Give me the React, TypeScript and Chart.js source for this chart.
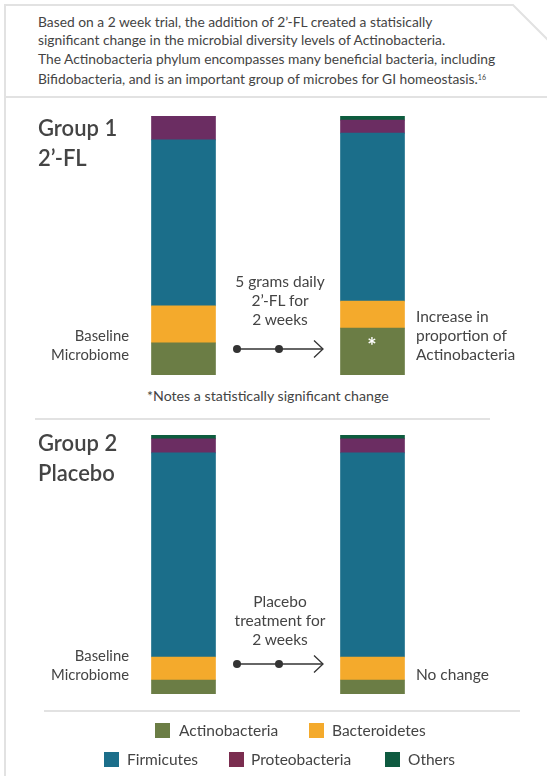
import React, { useEffect, useRef } from "react";
import { Chart, registerables } from "chart.js";

Chart.register(...registerables);

// ---- data (percent of microbiome) ----
const stages = ["Baseline", "After 2 weeks"];
const seriesNames = ["Actinobacteria", "Bacteroidetes", "Firmicutes", "Proteobacteria", "Others"];
const seriesColors = ["#6b7d45", "#f4aa2c", "#1b6e8a", "#6b2d62", "#0d5c3e"];
const legendColors = ["#6b7d45", "#f4aa2c", "#1b6e8a", "#7a2d4f", "#0e5a40"];

const g1Actinobacteria = [12.4, 18.1];
const g1Bacteroidetes = [14.3, 10.4];
const g1Firmicutes = [64.1, 64.9];
const g1Proteobacteria = [9.2, 5.0];
const g1Others = [0, 1.6];

const g2Actinobacteria = [5.4, 5.4];
const g2Bacteroidetes = [8.9, 8.9];
const g2Firmicutes = [78.8, 78.8];
const g2Proteobacteria = [5.4, 5.4];
const g2Others = [1.5, 1.5];

const group1 = [g1Actinobacteria, g1Bacteroidetes, g1Firmicutes, g1Proteobacteria, g1Others];
const group2 = [g2Actinobacteria, g2Bacteroidetes, g2Firmicutes, g2Proteobacteria, g2Others];

const FONT = "Lato, 'Noto Sans', sans-serif";
const TEXT = "#444";

function StackedBars({ top, values }: { top: number; values: number[][] }) {
  const ref = useRef<HTMLCanvasElement | null>(null);
  useEffect(() => {
    if (!ref.current) return;
    const chart = new Chart(ref.current, {
      type: "bar",
      data: {
        labels: stages,
        datasets: values.map((v, i) => ({
          label: seriesNames[i],
          data: v,
          backgroundColor: seriesColors[i],
          borderWidth: 0,
          barThickness: 64,
        })),
      },
      options: {
        animation: false,
        responsive: true,
        maintainAspectRatio: false,
        layout: { padding: 0 },
        plugins: { legend: { display: false }, tooltip: { enabled: false } },
        scales: {
          x: { stacked: true, display: false, offset: true },
          y: { stacked: true, display: false, min: 0, max: 100 },
        },
      },
    });
    return () => chart.destroy();
  }, [values]);
  return (
    <div style={{ position: "absolute", left: 89, top, width: 378, height: 259 }}>
      <canvas ref={ref} />
    </div>
  );
}

function T({
  x, y, w, align = "left", size = 15.5, lh = 19, color = TEXT, weight = 400, children,
}: any) {
  const style: any = {
    position: "absolute",
    top: y,
    fontFamily: FONT,
    fontSize: size,
    lineHeight: lh + "px",
    color,
    fontWeight: weight,
    whiteSpace: "pre",
    textAlign: align,
  };
  if (align === "right") style.right = 547 - x;
  else if (align === "center") { style.left = x - w / 2; style.width = w; }
  else style.left = x;
  return <div style={style}>{children}</div>;
}

function Arrow({ y }: { y: number }) {
  return (
    <g stroke="#333" fill="none" strokeWidth={1.3}>
      <line x1={237} y1={y} x2={323} y2={y} />
      <polyline points={`314,${y - 8.5} 323,${y} 314,${y + 8.5}`} />
      <circle cx={237} cy={y} r={4} fill="#333" stroke="none" />
      <circle cx={279} cy={y} r={4} fill="#333" stroke="none" />
    </g>
  );
}

export default function App() {
  return (
    <div style={{ position: "fixed", left: 0, top: 0, width: 547, height: 776, background: "#fff", overflow: "hidden" }}>
      <svg width={547} height={776} style={{ position: "absolute", left: 0, top: 0 }}>
        <g stroke="#e2e2e2" strokeWidth={2} fill="none">
          <polyline points="5,776 5,5 513,5 548,40" />
          <line x1={5} y1={97} x2={547} y2={97} />
          <line x1={35} y1={419} x2={490} y2={419} />
          <line x1={44} y1={711} x2={520} y2={711} />
        </g>
        <Arrow y={349} />
        <Arrow y={664} />
      </svg>

      <T x={38} y={13} size={13.8} lh={18.3} color="#444">
        {"Based on a 2 week trial, the addition of 2’-FL created a statisically\nsignificant change in the microbial diversity levels of Actinobacteria.\nThe Actinobacteria phylum encompasses many beneficial bacteria, including\nBifidobacteria, and is an important group of microbes for GI homeostasis."}
        <span style={{ fontSize: 7, verticalAlign: "4px" }}>16</span>
      </T>

      <StackedBars top={116} values={group1} />
      <StackedBars top={435} values={group2} />

      <T x={38} y={113} size={22} lh={30} weight={600} color="#444">{"Group 1\n2’-FL"}</T>
      <T x={129} y={326} align="right" size={14.8}>{"Baseline\nMicrobiome"}</T>
      <T x={280} y={272} w={140} align="center">{"5 grams daily\n2’-FL for\n2 weeks"}</T>
      <T x={416} y={307}>{"Increase in\nproportion of\nActinobacteria"}</T>
      <T x={372} y={333} w={30} align="center" size={22} lh={26} color="#fff" weight={700}>*</T>
      <T x={147} y={386} size={14.2}>*Notes a statistically significant change</T>

      <T x={38} y={428} size={22} lh={30} weight={600} color="#444">{"Group 2\nPlacebo"}</T>
      <T x={129} y={646} align="right" size={14.8}>{"Baseline\nMicrobiome"}</T>
      <T x={280} y={592} w={140} align="center">{"Placebo\ntreatment for\n2 weeks"}</T>
      <T x={416} y={665}>No change</T>

      {[0, 1].map((i) => (
        <div key={"a" + i} style={{ position: "absolute", left: [155, 309][i], top: 723, width: 15, height: 15, background: legendColors[i] }} />
      ))}
      <T x={179} y={721}>{seriesNames[0]}</T>
      <T x={332} y={721}>{seriesNames[1]}</T>
      {[2, 3, 4].map((i, k) => (
        <div key={"b" + i} style={{ position: "absolute", left: [104, 229, 385][k], top: 752, width: 15, height: 15, background: legendColors[i] }} />
      ))}
      <T x={127} y={750}>{seriesNames[2]}</T>
      <T x={251} y={750}>{seriesNames[3]}</T>
      <T x={408} y={750}>{seriesNames[4]}</T>
    </div>
  );
}
